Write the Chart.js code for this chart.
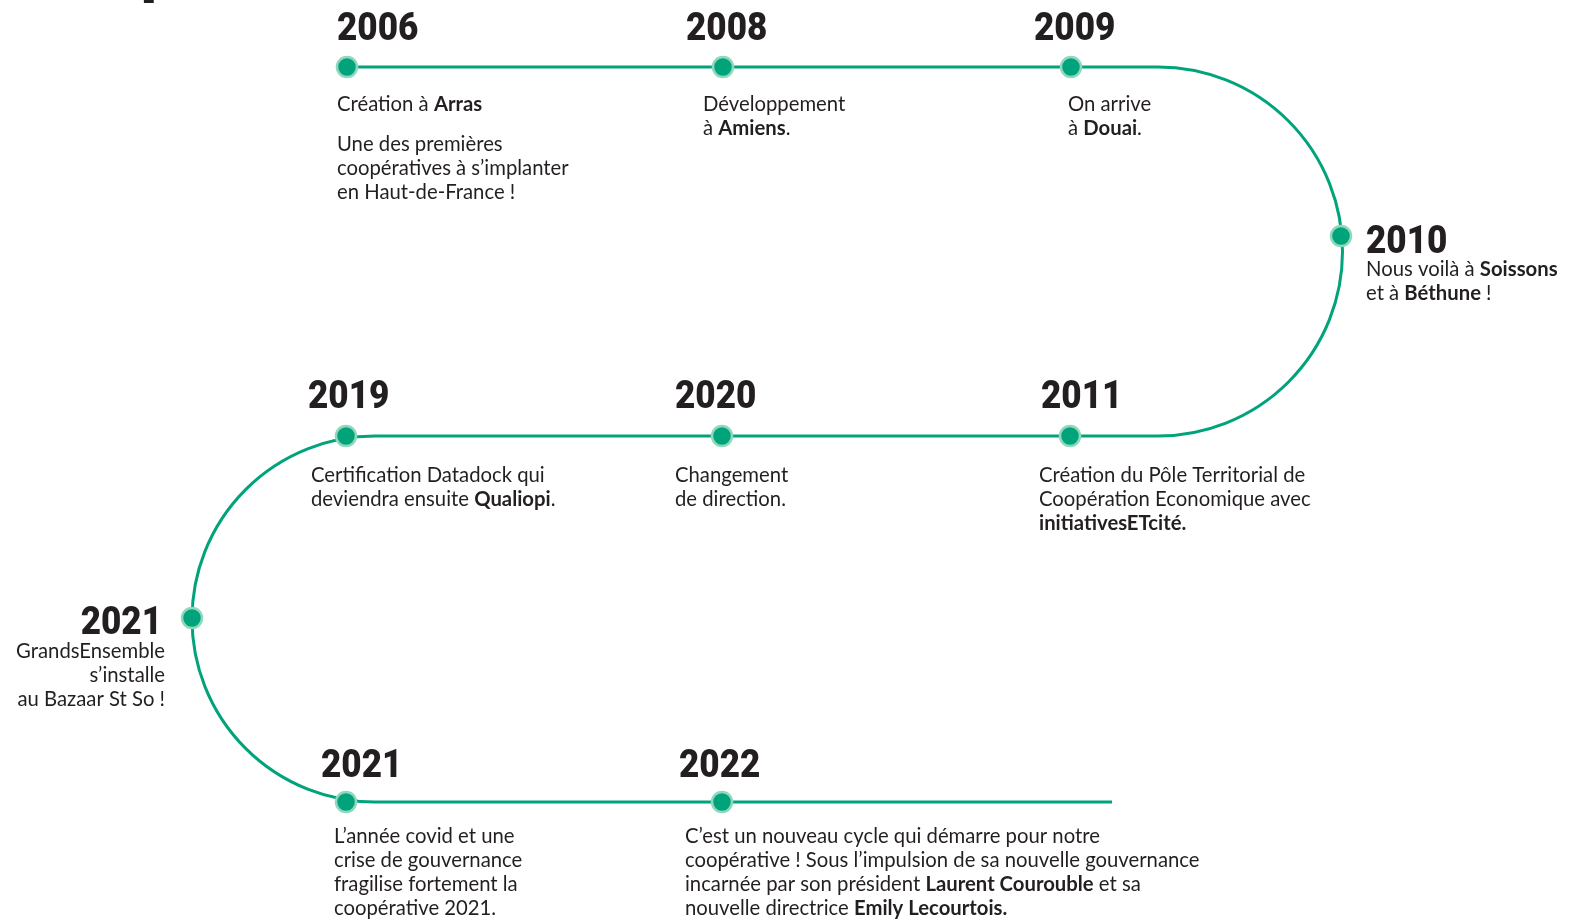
<!DOCTYPE html>
<html>
<head>
<meta charset="utf-8">
<script src="https://cdn.jsdelivr.net/npm/chart.js@4"></script>
<style>
  html, body { margin: 0; padding: 0; background: #ffffff; }
  #wrap { width: 1569px; height: 921px; }
</style>
</head>
<body>
<div id="wrap"><canvas id="c" width="1569" height="921"></canvas></div>
<script>
// ---------- DATA ----------
const years = ['2006', '2008', '2009', '2010', '2011', '2020', '2019', '2021', '2021', '2022'];
const descriptions = [
  ['Création à **Arras**', '', 'Une des premières', 'coopératives à s’implanter', 'en Haut-de-France\u202F!'],
  ['Développement', 'à **Amiens**.'],
  ['On arrive', 'à **Douai**.'],
  ['Nous voilà à **Soissons**', 'et à **Béthune**\u202F!'],
  ['Création du Pôle Territorial de', 'Coopération Economique avec', '**initiativesETcité.**'],
  ['Changement', 'de direction.'],
  ['Certification Datadock qui', 'deviendra ensuite **Qualiopi**.'],
  ['GrandsEnsemble', 's’installe', 'au Bazaar St So\u202F!'],
  ['L’année covid et une', 'crise de gouvernance', 'fragilise fortement la', 'coopérative 2021.'],
  ['C’est un nouveau cycle qui démarre pour notre', 'coopérative\u202F! Sous l’impulsion de sa nouvelle gouvernance', 'incarnée par son président **Laurent Courouble** et sa', 'nouvelle directrice **Emily Lecourtois.**']
];

// ---------- LAYOUT (positions in the chart's own value space) ----------
const pointX = [347, 723, 1071, 1341, 1070, 722, 346, 192, 346, 722];
const pointY = [67, 67, 67, 236, 436, 436, 436, 618, 802, 802];
const yearAnchor = [
  [337, 40, 'left'], [686, 40, 'left'], [1034, 40, 'left'], [1366, 253, 'left'],
  [1041, 408, 'left'], [675, 408, 'left'], [308, 408, 'left'], [162, 634, 'right'],
  [321, 777, 'left'], [679, 777, 'left']
];
const descAnchor = [
  [337, 111, 'left'], [703, 111, 'left'], [1068, 111, 'left'], [1366, 276, 'left'],
  [1039, 482, 'left'], [675, 482, 'left'], [311, 482, 'left'], [165, 658, 'right'],
  [334, 843, 'left'], [685, 843, 'left']
];
const straightSegments = [
  [[347, 67], [1158, 67]],
  [[1158, 436], [375, 436]],
  [[375, 802], [1112, 802]]
];
// arcs: centre x, centre y, radius, start angle, end angle, anticlockwise
const arcSegments = [
  [1158, 251.5, 184.5, -Math.PI / 2, Math.PI / 2, false],
  [375, 619, 183, -Math.PI / 2, Math.PI / 2, true]
];

const GREEN = '#00a37a';
const RING = '#8fd8bd';
const INK = '#231f20';
const YEAR_FONT = '900 39px Roboto';
const YEAR_SQUEEZE = 0.9;
const BODY_SIZE = 20.3;
const BODY_FAMILY = 'Lato';
const LINE_H = 24;
const PARA_GAP = 16;

// ---------- PLUGINS ----------
const arcPlugin = {
  id: 'arcs',
  beforeDatasetsDraw(chart) {
    const { ctx, scales: { x, y } } = chart;
    ctx.save();
    ctx.strokeStyle = GREEN;
    ctx.lineWidth = 3;
    arcSegments.forEach(([cx, cy, r, a0, a1, acw]) => {
      const px = x.getPixelForValue(cx);
      const py = y.getPixelForValue(cy);
      const pr = Math.abs(y.getPixelForValue(cy + r) - py);
      ctx.beginPath();
      ctx.arc(px, py, pr, a0, a1, acw);
      ctx.stroke();
    });
    ctx.restore();
  }
};

function drawRich(ctx, line, x, yb, align) {
  const parts = line.split('**');
  const runs = parts.map((t, i) => ({ t, bold: i % 2 === 1 })).filter(r => r.t.length);
  const fontOf = r => (r.bold ? '700 ' : '400 ') + BODY_SIZE + 'px ' + BODY_FAMILY;
  let total = 0;
  runs.forEach(r => { ctx.font = fontOf(r); r.w = ctx.measureText(r.t).width; total += r.w; });
  let cx = align === 'right' ? x - total : x;
  ctx.textAlign = 'left';
  runs.forEach(r => { ctx.font = fontOf(r); ctx.fillText(r.t, cx, yb); cx += r.w; });
}

const textPlugin = {
  id: 'timelineText',
  afterDatasetsDraw(chart) {
    const { ctx, scales: { x, y } } = chart;
    ctx.save();
    ctx.fillStyle = INK;
    ctx.textBaseline = 'alphabetic';
    // cut-off title fragment at top
    ctx.font = '900 60px Roboto';
    ctx.textAlign = 'left';
    ctx.fillText('p', 141, -9);
    years.forEach((yr, i) => {
      const [ax, ay, al] = yearAnchor[i];
      ctx.save();
      ctx.font = YEAR_FONT;
      ctx.textAlign = al;
      ctx.translate(x.getPixelForValue(ax), y.getPixelForValue(ay));
      ctx.scale(YEAR_SQUEEZE, 1);
      ctx.fillText(yr, 0, 0);
      ctx.restore();
    });
    descriptions.forEach((lines, i) => {
      const [ax, ay, al] = descAnchor[i];
      let yy = y.getPixelForValue(ay);
      const px = x.getPixelForValue(ax);
      lines.forEach((ln) => {
        if (ln === '') { yy += PARA_GAP; return; }
        drawRich(ctx, ln, px, yy, al);
        yy += LINE_H;
      });
    });
    ctx.restore();
  }
};

// ---------- CHART ----------
const datasets = straightSegments.map(seg => ({
  type: 'line',
  data: seg.map(([sx, sy]) => ({ x: sx, y: sy })),
  borderColor: GREEN,
  borderWidth: 3,
  pointRadius: 0,
  fill: false,
  order: 2
}));
datasets.push({
  type: 'scatter',
  label: 'Étapes',
  data: years.map((yr, i) => ({ x: pointX[i], y: pointY[i] })),
  backgroundColor: GREEN,
  borderColor: RING,
  borderWidth: 2.5,
  pointRadius: 10,
  pointHoverRadius: 10,
  order: 0
});

new Chart(document.getElementById('c'), {
  type: 'scatter',
  data: { datasets },
  options: {
    responsive: false,
    animation: false,
    devicePixelRatio: 1,
    clip: false,
    layout: { padding: 0, autoPadding: false },
    plugins: { legend: { display: false }, tooltip: { enabled: false } },
    scales: {
      x: { type: 'linear', min: 0, max: 1569, display: false },
      y: { type: 'linear', min: 0, max: 921, reverse: true, display: false }
    }
  },
  plugins: [arcPlugin, textPlugin]
});
</script>
</body>
</html>
